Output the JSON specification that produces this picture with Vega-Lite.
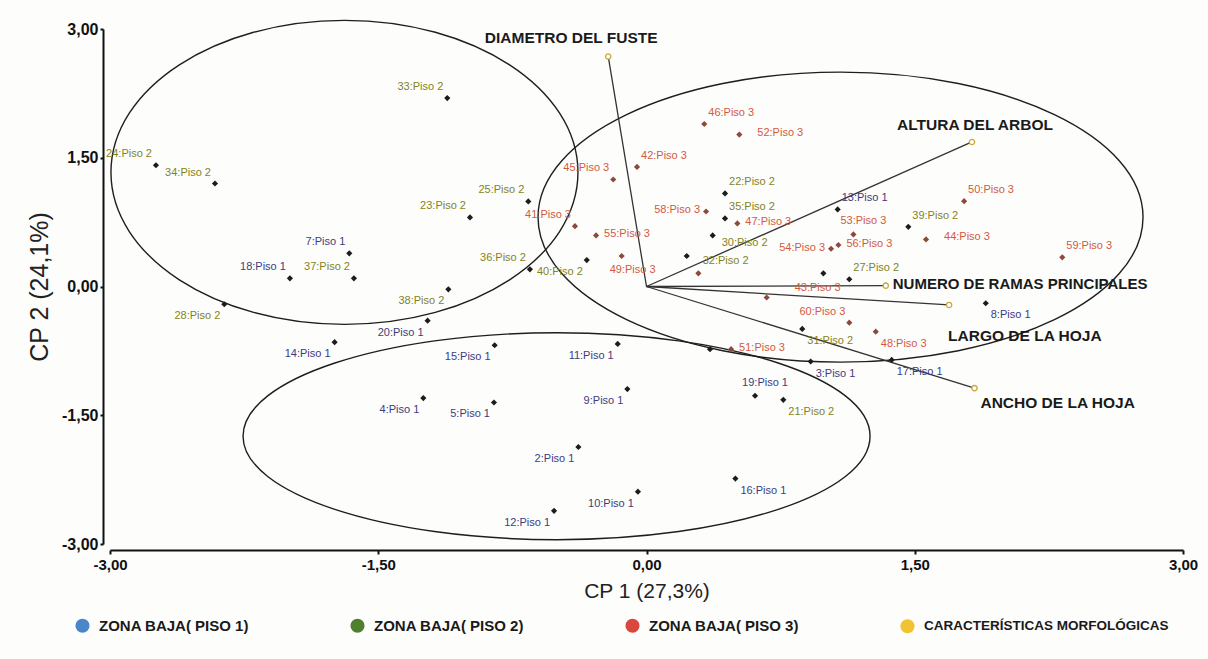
{
  "$schema": "https://vega.github.io/schema/vega-lite/v6.json",
  "width": 1073,
  "height": 515,
  "autosize": {"type": "none"},
  "padding": {"left": 110, "top": 29, "right": 25, "bottom": 115},
  "background": "#fdfdfc",
  "config": {"view": {"stroke": null}, "font": "Liberation Sans"},
  "datasets": {
    "puntos": [
      {"id": 2, "piso": 1, "etiqueta": "2:Piso 1", "cp1": -0.381, "cp2": -1.870},
      {"id": 3, "piso": 1, "etiqueta": "3:Piso 1", "cp1": 0.918, "cp2": -0.874},
      {"id": 4, "piso": 1, "etiqueta": "4:Piso 1", "cp1": -1.248, "cp2": -1.300},
      {"id": 5, "piso": 1, "etiqueta": "5:Piso 1", "cp1": -0.853, "cp2": -1.351},
      {"id": 7, "piso": 1, "etiqueta": "7:Piso 1", "cp1": -1.662, "cp2": 0.386},
      {"id": 8, "piso": 1, "etiqueta": "8:Piso 1", "cp1": 1.897, "cp2": -0.195},
      {"id": 9, "piso": 1, "etiqueta": "9:Piso 1", "cp1": -0.107, "cp2": -1.195},
      {"id": 10, "piso": 1, "etiqueta": "10:Piso 1", "cp1": -0.048, "cp2": -2.390},
      {"id": 11, "piso": 1, "etiqueta": "11:Piso 1", "cp1": -0.161, "cp2": -0.669},
      {"id": 12, "piso": 1, "etiqueta": "12:Piso 1", "cp1": -0.517, "cp2": -2.614},
      {"id": 13, "piso": 1, "etiqueta": "13:Piso 1", "cp1": 1.069, "cp2": 0.898},
      {"id": 14, "piso": 1, "etiqueta": "14:Piso 1", "cp1": -1.744, "cp2": -0.649},
      {"id": 15, "piso": 1, "etiqueta": "15:Piso 1", "cp1": -0.849, "cp2": -0.684},
      {"id": 16, "piso": 1, "etiqueta": "16:Piso 1", "cp1": 0.497, "cp2": -2.238},
      {"id": 17, "piso": 1, "etiqueta": "17:Piso 1", "cp1": 1.371, "cp2": -0.855},
      {"id": 18, "piso": 1, "etiqueta": "18:Piso 1", "cp1": -1.994, "cp2": 0.095},
      {"id": 19, "piso": 1, "etiqueta": "19:Piso 1", "cp1": 0.607, "cp2": -1.273},
      {"id": 20, "piso": 1, "etiqueta": "20:Piso 1", "cp1": -1.224, "cp2": -0.398},
      {"id": 21, "piso": 2, "etiqueta": "21:Piso 2", "cp1": 0.765, "cp2": -1.320},
      {"id": 22, "piso": 2, "etiqueta": "22:Piso 2", "cp1": 0.439, "cp2": 1.084},
      {"id": 23, "piso": 2, "etiqueta": "23:Piso 2", "cp1": -0.987, "cp2": 0.805},
      {"id": 24, "piso": 2, "etiqueta": "24:Piso 2", "cp1": -2.743, "cp2": 1.413},
      {"id": 25, "piso": 2, "etiqueta": "25:Piso 2", "cp1": -0.661, "cp2": 0.991},
      {"id": 26, "piso": 2, "etiqueta": "26:Piso 2", "cp1": 0.989, "cp2": 0.153},
      {"id": 27, "piso": 2, "etiqueta": "27:Piso 2", "cp1": 1.134, "cp2": 0.084},
      {"id": 28, "piso": 2, "etiqueta": "28:Piso 2", "cp1": -2.361, "cp2": -0.207},
      {"id": 29, "piso": 2, "etiqueta": "29:Piso 2", "cp1": 0.355, "cp2": -0.730},
      {"id": 30, "piso": 2, "etiqueta": "30:Piso 2", "cp1": 0.370, "cp2": 0.595},
      {"id": 31, "piso": 2, "etiqueta": "31:Piso 2", "cp1": 0.871, "cp2": -0.494},
      {"id": 32, "piso": 2, "etiqueta": "32:Piso 2", "cp1": 0.225, "cp2": 0.355},
      {"id": 33, "piso": 2, "etiqueta": "33:Piso 2", "cp1": -1.114, "cp2": 2.195},
      {"id": 34, "piso": 2, "etiqueta": "34:Piso 2", "cp1": -2.413, "cp2": 1.200},
      {"id": 35, "piso": 2, "etiqueta": "35:Piso 2", "cp1": 0.439, "cp2": 0.793},
      {"id": 36, "piso": 2, "etiqueta": "36:Piso 2", "cp1": -0.652, "cp2": 0.200},
      {"id": 37, "piso": 2, "etiqueta": "37:Piso 2", "cp1": -1.636, "cp2": 0.095},
      {"id": 38, "piso": 2, "etiqueta": "38:Piso 2", "cp1": -1.108, "cp2": -0.033},
      {"id": 39, "piso": 2, "etiqueta": "39:Piso 2", "cp1": 1.464, "cp2": 0.695},
      {"id": 40, "piso": 2, "etiqueta": "40:Piso 2", "cp1": -0.334, "cp2": 0.308},
      {"id": 41, "piso": 3, "etiqueta": "41:Piso 3", "cp1": -0.400, "cp2": 0.703},
      {"id": 42, "piso": 3, "etiqueta": "42:Piso 3", "cp1": -0.053, "cp2": 1.393},
      {"id": 43, "piso": 3, "etiqueta": "43:Piso 3", "cp1": 0.672, "cp2": -0.128},
      {"id": 44, "piso": 3, "etiqueta": "44:Piso 3", "cp1": 1.563, "cp2": 0.549},
      {"id": 45, "piso": 3, "etiqueta": "45:Piso 3", "cp1": -0.186, "cp2": 1.247},
      {"id": 46, "piso": 3, "etiqueta": "46:Piso 3", "cp1": 0.323, "cp2": 1.893},
      {"id": 47, "piso": 3, "etiqueta": "47:Piso 3", "cp1": 0.508, "cp2": 0.735},
      {"id": 48, "piso": 3, "etiqueta": "48:Piso 3", "cp1": 1.282, "cp2": -0.526},
      {"id": 49, "piso": 3, "etiqueta": "49:Piso 3", "cp1": -0.139, "cp2": 0.355},
      {"id": 50, "piso": 3, "etiqueta": "50:Piso 3", "cp1": 1.776, "cp2": 0.994},
      {"id": 51, "piso": 3, "etiqueta": "51:Piso 3", "cp1": 0.473, "cp2": -0.730},
      {"id": 52, "piso": 3, "etiqueta": "52:Piso 3", "cp1": 0.519, "cp2": 1.770},
      {"id": 53, "piso": 3, "etiqueta": "53:Piso 3", "cp1": 1.157, "cp2": 0.607},
      {"id": 54, "piso": 3, "etiqueta": "54:Piso 3", "cp1": 1.032, "cp2": 0.440},
      {"id": 55, "piso": 3, "etiqueta": "55:Piso 3", "cp1": -0.282, "cp2": 0.595},
      {"id": 56, "piso": 3, "etiqueta": "56:Piso 3", "cp1": 1.073, "cp2": 0.483},
      {"id": 57, "piso": 3, "etiqueta": "57:Piso 3", "cp1": 0.290, "cp2": 0.153},
      {"id": 58, "piso": 3, "etiqueta": "58:Piso 3", "cp1": 0.333, "cp2": 0.874},
      {"id": 59, "piso": 3, "etiqueta": "59:Piso 3", "cp1": 2.325, "cp2": 0.340},
      {"id": 60, "piso": 3, "etiqueta": "60:Piso 3", "cp1": 1.134, "cp2": -0.421}
    ],
    "vectores": [
      {"variable": "DIAMETRO DEL FUSTE", "cp1": -0.214, "cp2": 2.680},
      {"variable": "ALTURA DEL ARBOL", "cp1": 1.820, "cp2": 1.684},
      {"variable": "NUMERO DE RAMAS PRINCIPALES", "cp1": 1.338, "cp2": 0.010},
      {"variable": "LARGO DE LA HOJA", "cp1": 1.692, "cp2": -0.215},
      {"variable": "ANCHO DE LA HOJA", "cp1": 1.834, "cp2": -1.184}
    ],
    "elipses": [
      {"grupo": "Piso 2", "cp1": -1.689, "cp2": 1.330},
      {"grupo": "Piso 3", "cp1": 1.085, "cp2": 0.808},
      {"grupo": "Piso 1", "cp1": -0.503, "cp2": -1.744}
    ],
    "leyenda": [
      {"categoria": "ZONA BAJA( PISO 1)"},
      {"categoria": "ZONA BAJA( PISO 2)"},
      {"categoria": "ZONA BAJA( PISO 3)"},
      {"categoria": "CARACTERÍSTICAS MORFOLÓGICAS"}
    ]
  },
  "encoding": {
    "x": {
      "field": "cp1", "type": "quantitative",
      "scale": {"domain": [-3, 3], "nice": false, "zero": false},
      "axis": {
        "title": "CP 1 (27,3%)", "values": [-3, -1.5, 0, 1.5, 3],
        "labelExpr": "replace(replace(format(datum.value, '.2f'), '.', ','), '\u2212', '-')",
        "grid": false, "offset": 6, "domainColor": "#111", "domainWidth": 2,
        "tickColor": "#111", "tickWidth": 2, "tickSize": 4, "labelFlush": false,
        "labelFont": "Liberation Sans", "labelFontWeight": "bold", "labelFontSize": 15,
        "labelColor": "#111", "labelPadding": 3,
        "titleFont": "Liberation Sans", "titleFontSize": 21, "titleFontWeight": "normal",
        "titleColor": "#222", "titlePadding": 8
      }
    },
    "y": {
      "field": "cp2", "type": "quantitative",
      "scale": {"domain": [-3, 3], "nice": false, "zero": false},
      "axis": {
        "title": "CP 2 (24,1%)", "values": [-3, -1.5, 0, 1.5, 3],
        "labelExpr": "replace(replace(format(datum.value, '.2f'), '.', ','), '\u2212', '-')",
        "grid": false, "offset": 7, "domainColor": "#111", "domainWidth": 2,
        "tickColor": "#111", "tickWidth": 2, "tickSize": 3, "labelFlush": false,
        "labelFont": "Liberation Sans", "labelFontWeight": "bold", "labelFontSize": 16,
        "labelColor": "#111", "labelPadding": 2,
        "titleFont": "Liberation Sans", "titleFontSize": 25, "titleFontWeight": "normal",
        "titleColor": "#222", "titlePadding": 9
      }
    }
  },
  "layer": [
    {
      "data": {"name": "elipses"},
      "transform": [{"filter": "datum.grupo === 'Piso 2'"}],
      "mark": {"type": "point", "filled": false, "stroke": "#1e1e1e", "strokeWidth": 1.4, "opacity": 1,
        "size": 218089,
        "shape": "M 1 0 C 1 0.3595 0.5523 0.651 0 0.651 C -0.5523 0.651 -1 0.3595 -1 0 C -1 -0.3595 -0.5523 -0.651 0 -0.651 C 0.5523 -0.651 1 -0.3595 1 0 Z"}
    },
    {
      "data": {"name": "elipses"},
      "transform": [{"filter": "datum.grupo === 'Piso 3'"}],
      "mark": {"type": "point", "filled": false, "stroke": "#1e1e1e", "strokeWidth": 1.4, "opacity": 1,
        "size": 366025,
        "shape": "M 1 0 C 1 0.2647 0.5523 0.4793 0 0.4793 C -0.5523 0.4793 -1 0.2647 -1 0 C -1 -0.2647 -0.5523 -0.4793 0 -0.4793 C 0.5523 -0.4793 1 -0.2647 1 0 Z"}
    },
    {
      "data": {"name": "elipses"},
      "transform": [{"filter": "datum.grupo === 'Piso 1'"}],
      "mark": {"type": "point", "filled": false, "stroke": "#1e1e1e", "strokeWidth": 1.4, "opacity": 1,
        "size": 393129,
        "shape": "M 1 0 C 1 0.1823 0.5523 0.3301 0 0.3301 C -0.5523 0.3301 -1 0.1823 -1 0 C -1 -0.1823 -0.5523 -0.3301 0 -0.3301 C 0.5523 -0.3301 1 -0.1823 1 0 Z"}
    },
    {
      "data": {"name": "vectores"},
      "mark": {"type": "rule", "stroke": "#333", "strokeWidth": 1.3},
      "encoding": {
        "x": {"datum": 0, "type": "quantitative"},
        "y": {"datum": 0, "type": "quantitative"},
        "x2": {"field": "cp1"},
        "y2": {"field": "cp2"}
      }
    },
    {
      "data": {"name": "puntos"},
      "mark": {"type": "point", "shape": "diamond", "filled": true, "size": 38, "opacity": 1},
      "encoding": {
        "color": {"condition": {"test": "datum.piso === 3", "value": "#8c4a3a"}, "value": "#1c1c1c"}
      }
    },
    {
      "data": {"name": "vectores"},
      "mark": {"type": "point", "shape": "circle", "filled": true, "fill": "#ffffff", "stroke": "#c9a73a", "strokeWidth": 1.3, "size": 28, "opacity": 1}
    },
    {
      "data": {"name": "puntos"},
      "transform": [{"filter": {"field": "id", "oneOf": [24, 34, 33, 7, 18, 37, 23, 36, 25, 45, 60, 41]}}],
      "mark": {"type": "text", "align": "right", "baseline": "middle", "dx": -4, "dy": -11, "fontSize": 11},
      "encoding": {"text": {"field": "etiqueta"}, "color": {"field": "piso", "type": "nominal", "scale": {"domain": [1, 2, 3], "range": ["#3c3c7c", "#83831c", "#d25a3f"]}, "legend": null}}
    },
    {
      "data": {"name": "puntos"},
      "transform": [{"filter": {"field": "id", "oneOf": [28, 38, 20, 14, 15, 40, 11, 9, 5, 4, 2, 10, 12]}}],
      "mark": {"type": "text", "align": "right", "baseline": "middle", "dx": -4, "dy": 12, "fontSize": 11},
      "encoding": {"text": {"field": "etiqueta"}, "color": {"field": "piso", "type": "nominal", "scale": {"domain": [1, 2, 3], "range": ["#3c3c7c", "#83831c", "#d25a3f"]}, "legend": null}}
    },
    {
      "data": {"name": "puntos"},
      "transform": [{"filter": {"field": "id", "oneOf": [42, 46, 22, 35, 13, 39, 50, 59, 27]}}],
      "mark": {"type": "text", "align": "left", "baseline": "middle", "dx": 4, "dy": -11, "fontSize": 11},
      "encoding": {"text": {"field": "etiqueta"}, "color": {"field": "piso", "type": "nominal", "scale": {"domain": [1, 2, 3], "range": ["#3c3c7c", "#83831c", "#d25a3f"]}, "legend": null}}
    },
    {
      "data": {"name": "puntos"},
      "transform": [{"filter": {"field": "id", "oneOf": [48, 31, 3, 17, 8, 21, 16]}}],
      "mark": {"type": "text", "align": "left", "baseline": "middle", "dx": 5, "dy": 12, "fontSize": 11},
      "encoding": {"text": {"field": "etiqueta"}, "color": {"field": "piso", "type": "nominal", "scale": {"domain": [1, 2, 3], "range": ["#3c3c7c", "#83831c", "#d25a3f"]}, "legend": null}}
    },
    {
      "data": {"name": "puntos"},
      "transform": [{"filter": {"field": "id", "oneOf": [30]}}],
      "mark": {"type": "text", "align": "left", "baseline": "middle", "dx": 9, "dy": 8, "fontSize": 11},
      "encoding": {"text": {"field": "etiqueta"}, "color": {"field": "piso", "type": "nominal", "scale": {"domain": [1, 2, 3], "range": ["#3c3c7c", "#83831c", "#d25a3f"]}, "legend": null}}
    },
    {
      "data": {"name": "puntos"},
      "transform": [{"filter": {"field": "id", "oneOf": [55, 56, 47, 51]}}],
      "mark": {"type": "text", "align": "left", "baseline": "middle", "dx": 8, "dy": -1, "fontSize": 11},
      "encoding": {"text": {"field": "etiqueta"}, "color": {"field": "piso", "type": "nominal", "scale": {"domain": [1, 2, 3], "range": ["#3c3c7c", "#83831c", "#d25a3f"]}, "legend": null}}
    },
    {
      "data": {"name": "puntos"},
      "transform": [{"filter": {"field": "id", "oneOf": [52, 44]}}],
      "mark": {"type": "text", "align": "left", "baseline": "middle", "dx": 18, "dy": -2, "fontSize": 11},
      "encoding": {"text": {"field": "etiqueta"}, "color": {"field": "piso", "type": "nominal", "scale": {"domain": [1, 2, 3], "range": ["#3c3c7c", "#83831c", "#d25a3f"]}, "legend": null}}
    },
    {
      "data": {"name": "puntos"},
      "transform": [{"filter": {"field": "id", "oneOf": [32]}}],
      "mark": {"type": "text", "align": "left", "baseline": "middle", "dx": 16, "dy": 5, "fontSize": 11},
      "encoding": {"text": {"field": "etiqueta"}, "color": {"field": "piso", "type": "nominal", "scale": {"domain": [1, 2, 3], "range": ["#3c3c7c", "#83831c", "#d25a3f"]}, "legend": null}}
    },
    {
      "data": {"name": "puntos"},
      "transform": [{"filter": {"field": "id", "oneOf": [43]}}],
      "mark": {"type": "text", "align": "left", "baseline": "middle", "dx": 28, "dy": -9, "fontSize": 11},
      "encoding": {"text": {"field": "etiqueta"}, "color": {"field": "piso", "type": "nominal", "scale": {"domain": [1, 2, 3], "range": ["#3c3c7c", "#83831c", "#d25a3f"]}, "legend": null}}
    },
    {
      "data": {"name": "puntos"},
      "transform": [{"filter": {"field": "id", "oneOf": [58, 54]}}],
      "mark": {"type": "text", "align": "right", "baseline": "middle", "dx": -6, "dy": -1, "fontSize": 11},
      "encoding": {"text": {"field": "etiqueta"}, "color": {"field": "piso", "type": "nominal", "scale": {"domain": [1, 2, 3], "range": ["#3c3c7c", "#83831c", "#d25a3f"]}, "legend": null}}
    },
    {
      "data": {"name": "puntos"},
      "transform": [{"filter": {"field": "id", "oneOf": [19, 53]}}],
      "mark": {"type": "text", "align": "center", "baseline": "middle", "dx": 10, "dy": -13, "fontSize": 11},
      "encoding": {"text": {"field": "etiqueta"}, "color": {"field": "piso", "type": "nominal", "scale": {"domain": [1, 2, 3], "range": ["#3c3c7c", "#83831c", "#d25a3f"]}, "legend": null}}
    },
    {
      "data": {"name": "puntos"},
      "transform": [{"filter": {"field": "id", "oneOf": [49]}}],
      "mark": {"type": "text", "align": "center", "baseline": "middle", "dx": 11, "dy": 14, "fontSize": 11},
      "encoding": {"text": {"field": "etiqueta"}, "color": {"field": "piso", "type": "nominal", "scale": {"domain": [1, 2, 3], "range": ["#3c3c7c", "#83831c", "#d25a3f"]}, "legend": null}}
    },
    {
      "data": {"name": "vectores"},
      "transform": [{"filter": "datum.variable === 'DIAMETRO DEL FUSTE'"}],
      "mark": {"type": "text", "align": "center", "baseline": "middle", "dx": -37, "dy": -18, "fontSize": 15.5, "fontWeight": "bold", "color": "#1a1a1a"},
      "encoding": {"text": {"field": "variable"}}
    },
    {
      "data": {"name": "vectores"},
      "transform": [{"filter": "datum.variable === 'ALTURA DEL ARBOL'"}],
      "mark": {"type": "text", "align": "center", "baseline": "middle", "dx": 3, "dy": -17, "fontSize": 15.5, "fontWeight": "bold", "color": "#1a1a1a"},
      "encoding": {"text": {"field": "variable"}}
    },
    {
      "data": {"name": "vectores"},
      "transform": [{"filter": "datum.variable === 'NUMERO DE RAMAS PRINCIPALES'"}],
      "mark": {"type": "text", "align": "left", "baseline": "middle", "dx": 7, "dy": -2, "fontSize": 15, "fontWeight": "bold", "color": "#1a1a1a"},
      "encoding": {"text": {"field": "variable"}}
    },
    {
      "data": {"name": "vectores"},
      "transform": [{"filter": "datum.variable === 'LARGO DE LA HOJA'"}],
      "mark": {"type": "text", "align": "left", "baseline": "middle", "dx": -1, "dy": 31, "fontSize": 15.5, "fontWeight": "bold", "color": "#1a1a1a"},
      "encoding": {"text": {"field": "variable"}}
    },
    {
      "data": {"name": "vectores"},
      "transform": [{"filter": "datum.variable === 'ANCHO DE LA HOJA'"}],
      "mark": {"type": "text", "align": "left", "baseline": "middle", "dx": 6, "dy": 15, "fontSize": 15.5, "fontWeight": "bold", "color": "#1a1a1a"},
      "encoding": {"text": {"field": "variable"}}
    },
    {
      "data": {"name": "leyenda"},
      "mark": {"type": "point", "shape": "circle", "filled": true, "opacity": 0},
      "encoding": {
        "fill": {
          "field": "categoria", "type": "nominal",
          "scale": {"domain": ["ZONA BAJA( PISO 1)", "ZONA BAJA( PISO 2)", "ZONA BAJA( PISO 3)", "CARACTERÍSTICAS MORFOLÓGICAS"],
                    "range": ["#4a87c9", "#4f8030", "#d9473f", "#f1c232"]},
          "legend": {
            "orient": "none", "legendX": -35, "legendY": 589, "direction": "horizontal",
            "title": null, "padding": 0, "symbolType": "circle", "symbolSize": 200,
            "symbolStrokeWidth": 0, "symbolOpacity": 1,
            "labelFont": "Liberation Sans", "labelFontWeight": "bold", "labelFontSize": 15,
            "labelColor": "#1a1a1a", "labelOffset": 9, "columnPadding": 100, "labelLimit": 400,
            "encode": {
              "labels": {
                "update": {
                  "fontSize": [{"test": "datum.value === 'CARACTERÍSTICAS MORFOLÓGICAS'", "value": 13.5}, {"value": 15}]
                }
              }
            }
          }
        }
      }
    }
  ]
}
